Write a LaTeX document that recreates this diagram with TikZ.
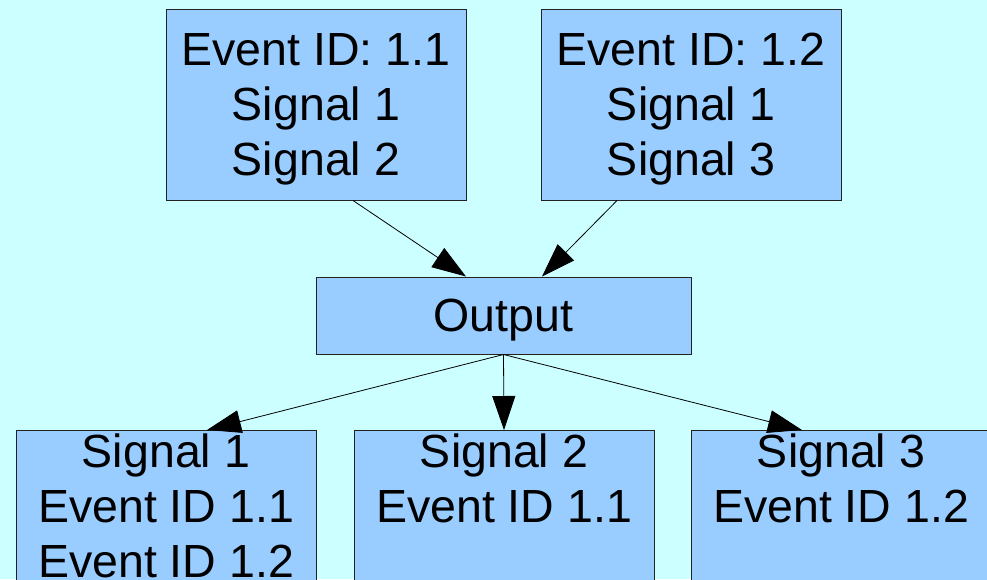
\documentclass[tikz,border=0pt]{standalone}
\usepackage{fontspec}
\setmainfont{Liberation Sans}
\usetikzlibrary{arrows.meta}
\definecolor{bgcyan}{HTML}{CCFFFF}
\definecolor{boxblue}{HTML}{99CCFF}
\definecolor{edgegray}{HTML}{222222}
\begin{document}
\begin{tikzpicture}[x=1pt,y=-1pt,
  bigfont/.style={font=\fontsize{46.5}{55}\selectfont},
  box/.style={draw=edgegray, fill=boxblue, line width=1pt, inner sep=0pt, align=center, bigfont},
  eventbox/.style={box, text depth=0pt, minimum width=300pt, minimum height=191pt},
  outbox/.style={box, text depth=0pt, minimum width=375pt, minimum height=77pt},
  sigbox/.style={box, minimum width=300pt, minimum height=191pt, anchor=north},
  sigtext/.style={inner sep=0pt, align=center, bigfont, anchor=north},
  link/.style={line width=0.8pt, draw=black, -{Triangle[length=34pt,width=23pt]}}
]
\useasboundingbox (0,0) rectangle (987,579);
\fill[bgcyan] (0,0) rectangle (987,579);
\clip (0,0) rectangle (987,579);

% event boxes
\node[eventbox] (ea) at (316,104.5) {Event ID: 1.1\\Signal 1\\Signal 2};
\node[eventbox] (eb) at (691,104.5) {Event ID: 1.2\\Signal 1\\Signal 3};

% output box
\node[outbox] (out) at (503.5,315.5) {Output};

% signal boxes (text sits at the top)
\node[sigbox] (s1) at (166,430) {};
\node[sigbox] (s2) at (504,430) {};
\node[sigbox] (s3) at (841,430) {};
\node[sigtext] (s1t) at ([yshift=-4pt]s1.north) {Signal 1\\Event ID 1.1\\Event ID 1.2};
\node[sigtext] (s2t) at ([yshift=-4pt]s2.north) {Signal 2\\Event ID 1.1};
\node[sigtext] (s3t) at ([yshift=-4pt]s3.north) {Signal 3\\Event ID 1.2};

% connectors
\draw[link] ([xshift=37pt]ea.south) -- ([xshift=-37.5pt]out.north);
\draw[link] ([xshift=-74pt]eb.south) -- ([xshift=38.5pt]out.north);
\draw[link] (out.south) -- ([xshift=41pt]s1.north);
\draw[link] (out.south) -- (s2.north);
\draw[link] (out.south) -- ([xshift=-39pt]s3.north);
\end{tikzpicture}
\end{document}
